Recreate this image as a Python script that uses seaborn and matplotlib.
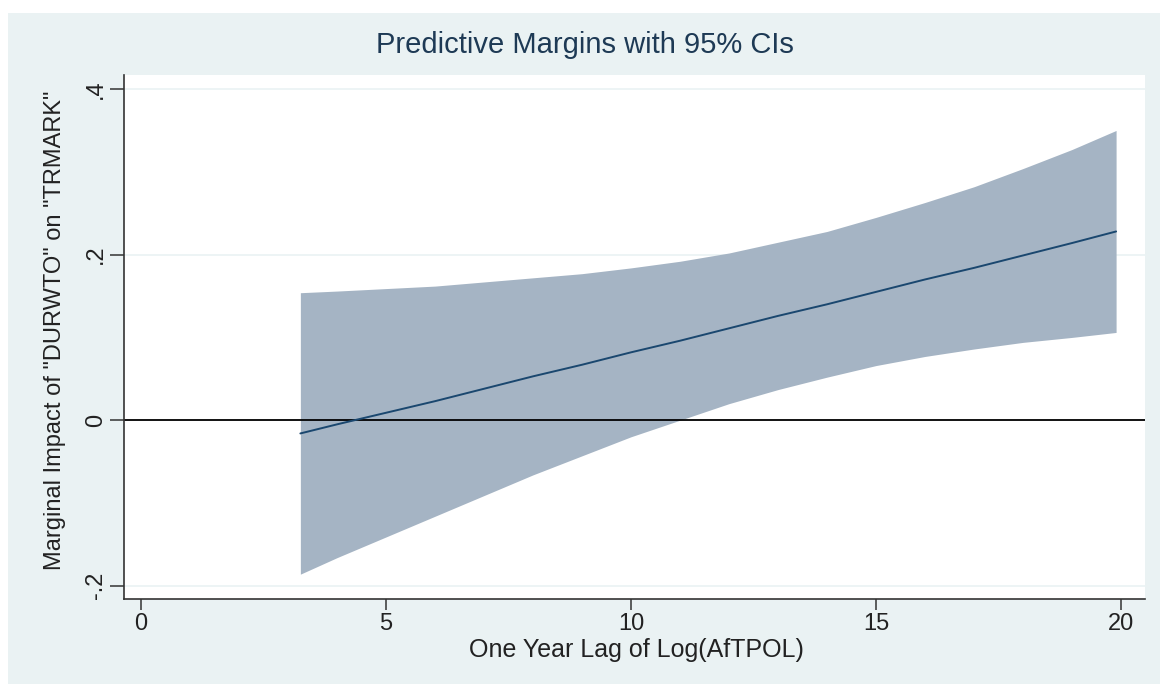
import numpy as np
import pandas as pd
import matplotlib
matplotlib.use("Agg")
import matplotlib.pyplot as plt
import seaborn as sb
from matplotlib.patches import Rectangle

# values (predictive margins + 95% CI)
lag_log_aftpol = [3.25, 4, 5, 6, 7, 8, 9, 10, 11, 12, 13, 14, 15, 16, 17, 18, 19, 19.9]
margin = [-0.016, -0.005, 0.009, 0.023, 0.038, 0.053, 0.067, 0.082, 0.096,
          0.111, 0.126, 0.140, 0.155, 0.170, 0.184, 0.199, 0.214, 0.228]
ci_upper = [0.154, 0.156, 0.159, 0.162, 0.167, 0.172, 0.177, 0.184, 0.192,
            0.202, 0.215, 0.228, 0.245, 0.263, 0.282, 0.304, 0.327, 0.350]
ci_lower = [-0.186, -0.166, -0.141, -0.116, -0.091, -0.066, -0.043, -0.020, 0.000,
            0.020, 0.037, 0.052, 0.066, 0.077, 0.086, 0.094, 0.100, 0.106]

x_ticks = [0, 5, 10, 15, 20]
y_ticks = [-0.2, 0, 0.2, 0.4]
y_ticklabels = ["-.2", "0", ".2", ".4"]

df = pd.DataFrame({"x": lag_log_aftpol, "margin": margin,
                   "lo": ci_lower, "hi": ci_upper})

sb.set_style("white")
plt.rcParams["font.family"] = ["Liberation Sans", "DejaVu Sans"]

bg = "#eaf2f3"
navy = "#1a476f"
band = "#a5b4c4"
axis_col = "#333333"
text_col = "#222222"

fig = plt.figure(figsize=(11.6, 6.84), dpi=100)
fig.patch.set_facecolor("white")
fig.patches.append(Rectangle((8 / 1160, 0), 1, 1 - 13 / 684, transform=fig.transFigure,
                             facecolor=bg, edgecolor="none", zorder=-10))

ax = fig.add_axes([124 / 1160, 1 - 599 / 684, (1145 - 124) / 1160, (599 - 75) / 684])
ax.set_facecolor("white")

# faint stata-style gridlines
for yv in y_ticks:
    ax.axhline(yv, color=bg, lw=1.2, zorder=0)

ax.fill_between(df["x"], df["lo"], df["hi"], color=band, lw=0, zorder=1)
ax.axhline(0, color="black", lw=1.3, zorder=2)
sb.lineplot(data=df, x="x", y="margin", ax=ax, color=navy, lw=1.4, zorder=3)

ax.set_xlim(-0.35, 20.49)
ax.set_ylim(-0.216, 0.417)
ax.set_xticks(x_ticks)
ax.set_yticks(y_ticks)
ax.set_yticklabels(y_ticklabels, rotation=90, va="center")

for s in ["top", "right"]:
    ax.spines[s].set_visible(False)
for s in ["left", "bottom"]:
    ax.spines[s].set_color(axis_col)
    ax.spines[s].set_linewidth(1.2)

ax.tick_params(axis="both", direction="out", width=1.1, color=axis_col,
               labelsize=17, labelcolor=text_col, left=True, bottom=True)
ax.tick_params(axis="x", length=8, pad=2)
ax.tick_params(axis="y", length=10, pad=2)

ax.set_xlabel("One Year Lag of Log(AfTPOL)", fontsize=18, color=text_col)
ax.set_ylabel('Marginal Impact of "DURWTO" on "TRMARK"', fontsize=17, color=text_col)
ax.xaxis.label.set_va("center")
ax.yaxis.label.set_va("center")
ax.xaxis.set_label_coords((636 - 124) / 1021, (599 - 650) / 524)
ax.yaxis.set_label_coords((55 - 124) / 1021, (599 - 330) / 524)

fig.text(585 / 1160, 1 - 45 / 684, "Predictive Margins with 95% CIs", fontsize=21,
         color="#1e3a55", ha="center", va="center")

plt.savefig("out.png", dpi=100, facecolor=fig.get_facecolor())
